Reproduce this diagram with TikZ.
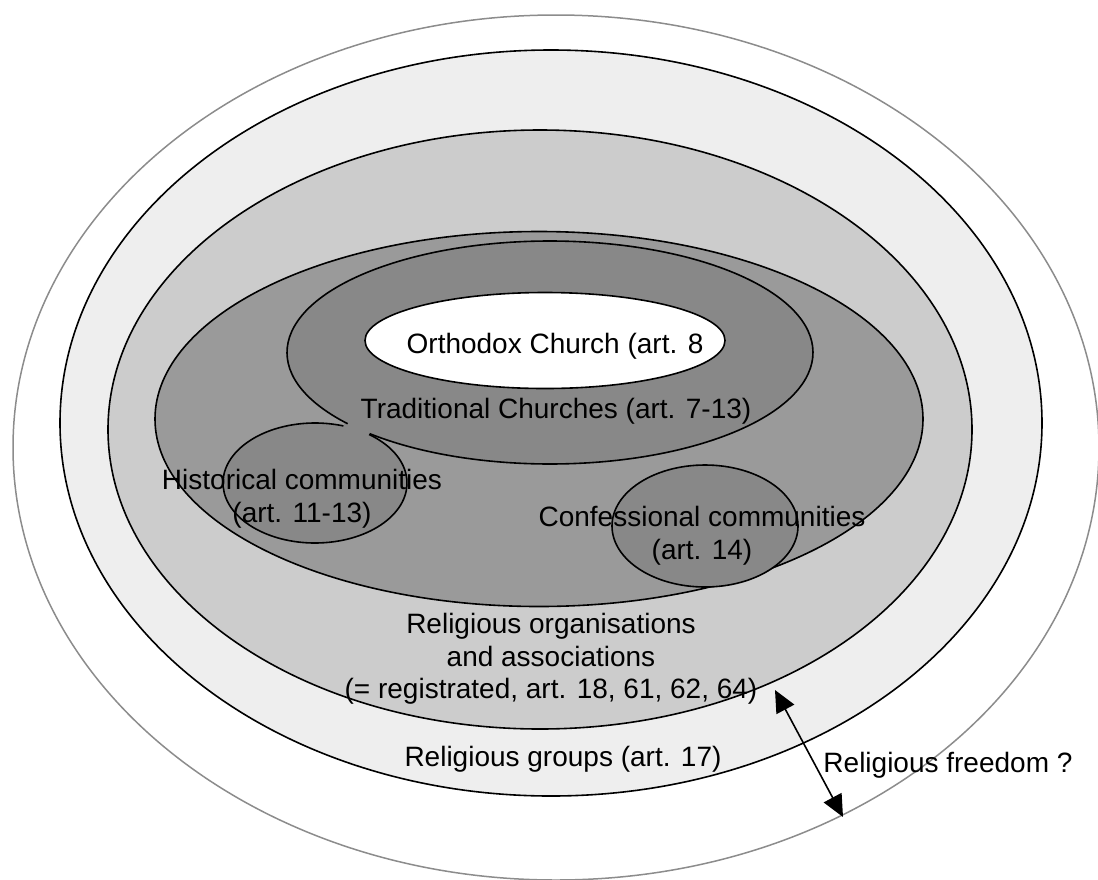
\documentclass[tikz,border=0pt]{standalone}
\usepackage{fontspec}
\setmainfont{Liberation Sans}
\usetikzlibrary{arrows.meta}
\definecolor{outerline}{HTML}{8C8C8C}
\definecolor{ctwo}{HTML}{EEEEEE}
\definecolor{cthree}{HTML}{CCCCCC}
\definecolor{cfour}{HTML}{9A9A9A}
\definecolor{cfive}{HTML}{888888}
\begin{document}
\begin{tikzpicture}[x=1pt,y=-1pt,
  ring/.style={draw=black,line width=1.6pt},
  lbl/.style={font=\fontsize{28}{32.5}\selectfont,align=center,inner sep=0pt},
  dblarrow/.style={line width=1.6pt,>={Triangle[length=22pt,width=20pt]},<->}]
\useasboundingbox (0,0) rectangle (1098,879);
% outer ring
\path[fill=white,draw=outerline,line width=1.5pt] (556,447.5) ellipse [x radius=543,y radius=432.5];
\path[ring,fill=ctwo] (551,423) ellipse [x radius=491,y radius=373];
\path[ring,fill=cthree] (540,429.5) ellipse [x radius=432,y radius=299.5];
\path[ring,fill=cfour] (539,419) ellipse [x radius=384,y radius=187.5];
% traditional churches joined to historical communities
\fill[cfive] (550,352.5) ellipse [x radius=263,y radius=111.5];
\fill[cfive] (315,483) ellipse [x radius=92,y radius=60];
\fill[cfive] (344,423) -- (371,431) -- (371,435) -- (344,428) -- cycle;
\draw[ring] ([shift={(140.3:263 and 111.5)}]550,352.5) arc[start angle=140.3,end angle=493.3,x radius=263,y radius=111.5];
\draw[ring] ([shift={(306:92 and 60)}]315,483) arc[start angle=306,end angle=648,x radius=92,y radius=60];
% confessional communities
\path[ring,fill=cfive] (705,526) ellipse [x radius=93,y radius=61];
% orthodox church
\path[ring,fill=white] (545,340.5) ellipse [x radius=180,y radius=48];
% labels
\node[lbl,anchor=base] (orth) at (555,353) {Orthodox Church (art. 8};
\node[lbl,anchor=base] (trad) at (556,418) {Traditional Churches (art. 7-13)};
\node[lbl] (hist) at (302,498.5) {Historical communities\\(art. 11-13)};
\node[lbl] (conf) at (702,535.5) {Confessional communities\\(art. 14)};
\node[lbl] (org) at (551,659) {Religious organisations\\and associations\\(= registrated, art. 18, 61, 62, 64)};
\node[lbl,anchor=base] (grp) at (563,766) {Religious groups (art. 17)};
\node[lbl,anchor=base] (free) at (948,772) {Religious freedom ?};
% arrow
\coordinate (aone) at (775,690);
\coordinate (atwo) at (843,817);
\draw[dblarrow] (aone) -- (atwo);
\end{tikzpicture}
\end{document}
